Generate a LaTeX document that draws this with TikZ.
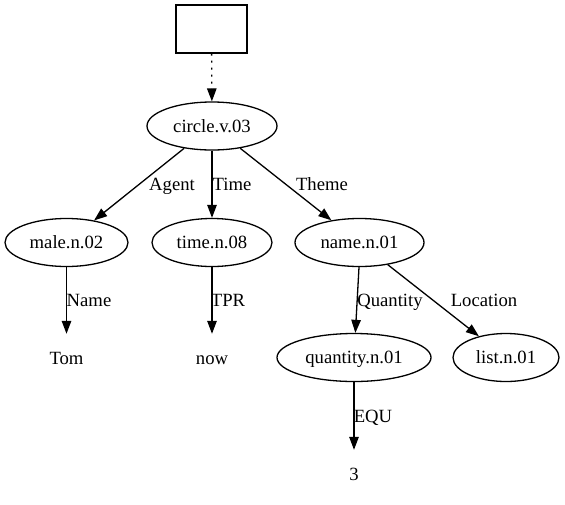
\documentclass[tikz,border=0pt]{standalone}
\usepackage{fontspec}
\setmainfont{Liberation Serif}
\usetikzlibrary{shapes.geometric,arrows.meta}
\begin{document}
\begin{tikzpicture}[x=1pt,y=-1pt,
  every node/.style={font=\fontsize{18.67pt}{22pt}\selectfont, text height=16.5pt, text depth=4pt, inner sep=0pt},
  ell/.style={draw, ellipse, line width=1.3pt, minimum height=48pt},
  plain/.style={minimum width=72pt, minimum height=48pt},
  boxnode/.style={draw, rectangle, line width=1.3pt, minimum width=71pt, minimum height=48pt},
  arr/.style={line width=1.3pt, -{Triangle[length=13pt,width=9.5pt]}},
  dotarr/.style={arr, dash pattern=on 2pt off 5pt},
  lab/.style={}
]
\useasboundingbox (0,0) rectangle (565,504);
\node[boxnode] (top) at (211.5,29) {};
\node[ell, minimum width=130pt] (circ) at (212,126) {circle.v.03};
\node[ell, minimum width=123pt] (male) at (66.5,242.5) {male.n.02};
\node[ell, minimum width=120pt] (time) at (212,242.5) {time.n.08};
\node[ell, minimum width=129pt] (name) at (359.5,242.5) {name.n.01};
\node[ell, minimum width=154pt] (quant) at (354,357.5) {quantity.n.01};
\node[ell, minimum width=106pt] (list) at (506,357.5) {list.n.01};
\node[plain] (tom) at (66.5,358) {Tom};
\node[plain] (now) at (212,358) {now};
\node[plain] (three) at (354,474) {3};

\draw[dotarr] (top) -- (circ);
\draw[arr] (circ) -- (male) node[lab] at (172,184) {Agent};
\draw[arr] (circ) -- (time) node[lab] at (232,184) {Time};
\draw[arr] (circ) -- (name) node[lab] at (322,184) {Theme};
\draw[arr] (male) -- (tom) node[lab] at (89,300) {Name};
\draw[arr] (time) -- (now) node[lab] at (228,300) {TPR};
\draw[arr] (name.south -| 359,0) -- (quant) node[lab] at (390,300) {Quantity};
\draw[arr] (name) -- (list) node[lab] at (484,300) {Location};
\draw[arr] (quant) -- (three) node[lab] at (373,416) {EQU};
\end{tikzpicture}
\end{document}
